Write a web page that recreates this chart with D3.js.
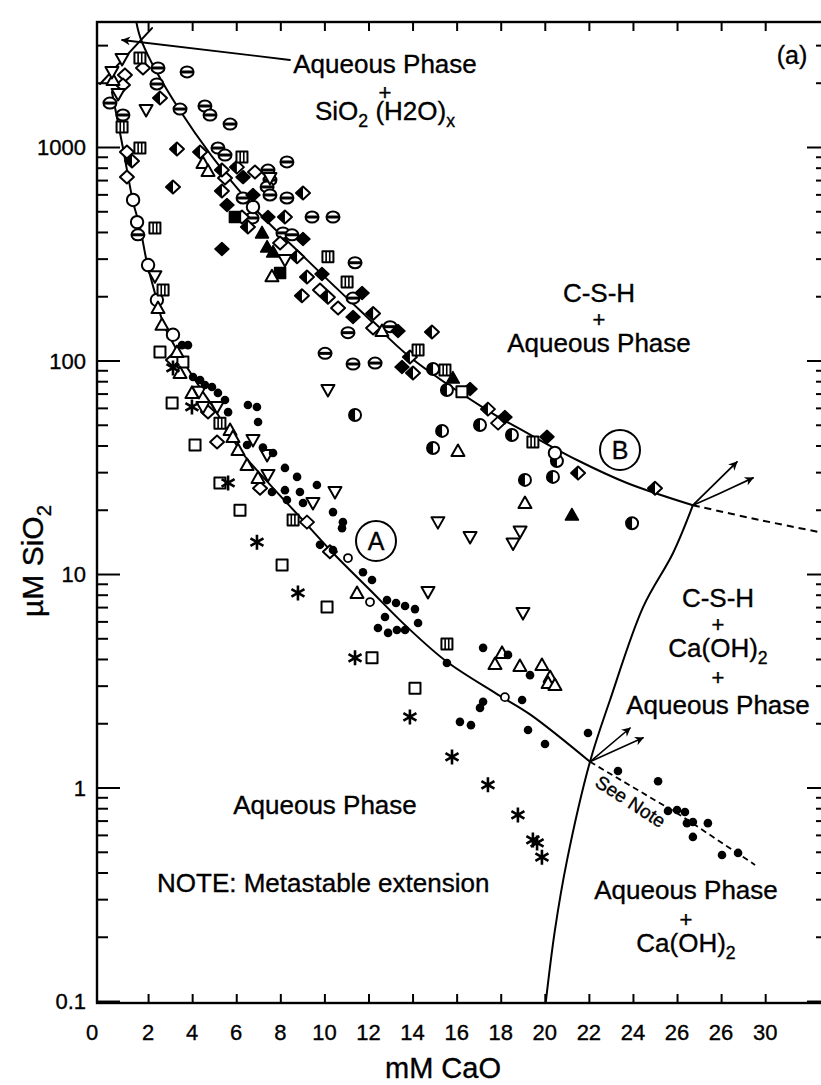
<!DOCTYPE html>
<html><head><meta charset="utf-8">
<script src="https://cdn.jsdelivr.net/npm/d3@7"></script>
<style>
body{margin:0;background:#fff}
svg{display:block}
text{font-family:"Liberation Sans",Arial,Helvetica,sans-serif;fill:#000;stroke:#000;stroke-width:0.35px}
</style>
</head><body>
<svg id="c" width="821" height="1085"></svg>
<script>
// ---------------- data ----------------
const xTickValues = [0,2,4,6,8,10,12,14,16,18,20,22,24,26,28,30];
const xTickLabels = ["0","2","4","6","8","10","12","14","16","18","20","22","24","26","26","30"];
const yTickValues = [0.1,1,10,100,1000];
const yTickLabels = ["0.1","1","10","100","1000"];

// marker series: [mM CaO, µM SiO2]
const circH = [[2.45,2345],[3.77,2246],[2.40,1973],[3.45,1506],[4.58,1556],[4.81,1412],[5.72,1281],[0.86,1412],[0.27,1606],[5.17,989],[5.49,917],[8.30,851],[7.44,780],[7.53,700],[7.40,650],[7.53,596],[6.31,577],[8.30,577],[6.72,465],[9.44,470],[10.39,470],[8.12,396],[8.53,388],[11.39,287],[11.30,196],[11.07,135],[12.98,144],[10.03,108],[11.30,96.3],[12.30,97.3],[1.54,388]];
const circV = [[11.39,55.6],[15.34,46.8],[14.93,38.9],[17.06,49.9],[19.10,27.6],[20.37,28.5],[18.51,44.8],[20.55,33.8],[15.56,72.8],[14.93,91.3],[23.96,17.3]];
const circOpen = [[6.76,524],[1.32,565],[1.50,445],[2.00,280],[3.13,132],[20.46,36.9],[2.40,192]];
const circSmall = [[11.07,11.88],[12.07,7.39],[18.19,2.65]];
const diaOpen = [[1.77,2345],[0.95,2176],[0.86,1950],[1.04,947],[1.04,723],[5.49,715],[6.85,763],[6.26,470],[7.99,355],[9.80,214],[10.62,176],[12.21,142],[3.13,100.5],[4.72,57.4],[5.13,41.5],[7.08,25.2],[9.21,17.5],[10.25,12.7],[17.88,50.9]];
const diaHalf = [[2.54,1696],[1.27,860],[3.31,978],[4.36,947],[6.03,805],[5.35,780],[5.35,622],[3.13,650],[9.03,609],[8.21,470],[6.53,422],[8.76,306],[9.21,246],[8.98,201],[10.16,198],[12.21,166],[14.88,136],[13.88,103.8],[14.02,87.4],[17.42,59.2],[21.51,29.7],[25.00,25.2]];
const diaFilled = [[6.31,723],[6.76,596],[5.58,535],[7.44,470],[9.03,371],[5.35,333],[9.89,254],[11.71,207],[11.30,160],[13.34,137.5],[13.52,93.3],[16.61,73.6],[18.19,54.3],[20.10,43.9]];
const sqOpen = [[2.54,109.6],[3.09,63.2],[4.13,40.2],[5.26,26.7],[6.17,19.9],[8.08,11.02],[10.12,7.0],[12.16,4.05],[14.11,2.92],[16.24,71.3],[3.58,98.4]];
const sqBar = [[1.63,2611],[1.63,989],[2.31,418],[2.68,214],[6.26,897],[10.16,306],[11.03,233],[14.25,112],[15.47,90.3],[5.26,50.9],[8.58,17.9],[15.56,4.70],[0.82,1240],[19.46,41.5]];
const sqFilled = [[5.94,470],[7.99,257]];
const triUp = [[4.49,841],[4.72,772],[7.62,248],[2.45,176],[2.63,147],[3.31,109.6],[3.45,87.4],[3.99,70.5],[5.72,47.3],[5.85,43.8],[6.08,38.1],[6.49,32.4],[6.99,28.2],[11.48,8.15],[16.06,37.7],[19.10,21.5],[18.06,4.27],[17.74,3.79],[18.87,3.71],[19.87,3.75],[20.24,3.29],[20.15,3.09],[20.46,3.02],[12.61,137.5],[0.41,2060]];
const triUpFilled = [[7.17,396],[7.40,340],[7.67,322],[15.83,82.8],[21.23,18.9]];
const triDown = [[0.82,2584],[0.36,2246],[0.64,1771],[1.91,1490],[2.31,248],[4.31,71.3],[4.49,60.6],[5.13,60.6],[6.76,42.4],[7.40,36.1],[7.44,29.1],[9.48,21.5],[10.48,24.2],[15.15,17.5],[16.61,14.9],[18.88,15.8],[18.56,13.9],[14.70,8.24],[19.01,6.56],[10.16,72.8],[7.53,715],[8.21,296]];
const dots = [[3.54,118],[3.81,118],[4.04,83.7],[4.36,81.0],[4.58,76.8],[4.90,75.2],[5.17,70.5],[5.49,65.3],[5.63,57.3],[6.53,61.9],[6.94,60.6],[6.99,51.5],[6.49,40.2],[7.21,39.1],[7.67,36.9],[8.21,31.4],[8.76,28.5],[9.66,26.1],[7.62,24.2],[8.21,24.7],[8.30,22.2],[8.89,24.2],[9.03,21.5],[10.39,19.5],[10.84,17.5],[10.80,16.4],[9.80,13.7],[10.39,12.96],[11.75,10.2],[12.16,9.37],[12.84,7.55],[13.25,7.31],[13.66,7.08],[14.11,6.85],[12.75,6.29],[14.25,5.90],[12.43,5.59],[12.89,5.30],[13.29,5.47],[13.66,5.47],[15.56,3.83],[17.20,4.51],[18.33,4.18],[19.33,3.36],[18.97,2.57],[17.20,2.52],[17.06,2.36],[16.15,2.03],[16.65,1.96],[19.24,1.86],[20.01,1.60],[21.96,1.80],[23.32,1.195],[25.14,1.07],[25.59,0.777],[26.00,0.785],[26.36,0.768],[26.45,0.681],[26.72,0.689],[27.40,0.681],[26.72,0.587],[28.04,0.483],[28.77,0.494]];
const stars = [[3.13,92.3],[3.99,60.6],[5.63,26.7],[6.94,14.1],[8.80,8.15],[11.39,4.05],[13.88,2.14],[15.79,1.39],[17.42,1.03],[18.78,0.744],[19.46,0.568],[19.65,0.55],[19.87,0.472]];

// phase boundaries
const curveA = [[0.36,1810],[0.86,989],[1.32,553],[1.63,422],[1.95,287],[2.31,207],[2.68,150],[3.22,116],[4.13,81.0],[5.04,58.6],[6.17,38.1],[7.53,26.2],[8.89,18.5],[10.39,12.55],[12.07,8.42],[13.75,5.65],[15.56,3.88],[17.83,2.74],[19.33,2.20],[22.05,1.32]];
const curveB = [[1.45,3934],[1.72,3104],[3.40,1506],[6.49,565],[9.21,296],[11.93,160],[13.88,103.8],[17.38,58.6],[19.19,45.8],[21.46,34.2],[23.73,26.7],[26.72,21.0]];
const silicaLine = [[-0.18,1973],[2.18,3606]];
const curveCH = [[20.05,0.1],[20.46,0.215],[21.01,0.457],[22.05,1.32],[22.96,2.57],[24.46,7.0],[25.82,12.55],[26.72,21.0]];
const dashB = [[26.72,21.0],[29.76,17.9],[32.62,15.6]];
const dashA = [[22.05,1.32],[26.13,0.744],[29.54,0.434]];
const arrowJ1a = [[26.72,21.0],[28.72,33.5]];
const arrowJ1b = [[26.72,21.0],[27.95,23.9],[29.45,28.2]];
const arrowJ2a = [[22.05,1.32],[23.87,1.90]];
const arrowJ2b = [[22.05,1.32],[24.46,1.71]];
const pointer = [[8.44,2556],[0.82,3171]];

// ---------------- layout ----------------
const L = 97, R = 823, T = 22, B = 1003;
const x = d3.scaleLinear().domain([-0.3176, 32.623]).range([L, R]);
const y = d3.scaleLog().domain([0.0979, 3850]).range([B, T]);

const svg = d3.select("#c");
const defs = svg.append("defs");
defs.append("clipPath").attr("id","clip").append("rect")
  .attr("x",L).attr("y",T).attr("width",R-L).attr("height",B-T);
defs.append("marker").attr("id","ah").attr("viewBox","0 0 10 10")
  .attr("refX",9).attr("refY",5).attr("markerWidth",10).attr("markerHeight",9)
  .attr("markerUnits","userSpaceOnUse").attr("orient","auto")
  .append("path").attr("d","M0,0L10,5L0,10L3,5Z").attr("fill","#000");

// frame
svg.append("rect").attr("x",L).attr("y",T).attr("width",R-L).attr("height",B-T)
  .attr("fill","none").attr("stroke","#000").attr("stroke-width",2.4);

// axes ticks
const xt = xTickValues.filter(v => v > 0);
const minor = [];
yTickValues.forEach(d => { for (let k = 2; k <= 9; k++) if (d*k < 3850) minor.push(d*k); });

function tickAxis(axis, tx, ty) {
  const g = svg.append("g").attr("transform",`translate(${tx},${ty})`).call(axis);
  g.select(".domain").remove();
  g.selectAll("line").attr("stroke","#000").attr("stroke-width",2);
  g.selectAll("text").remove();
}
tickAxis(d3.axisBottom(x).tickValues(xt).tickSize(-9), 0, B);
tickAxis(d3.axisTop(x).tickValues(xt).tickSize(-9), 0, T);
tickAxis(d3.axisLeft(y).tickValues(yTickValues).tickSize(-23), L, 0);
tickAxis(d3.axisLeft(y).tickValues(minor).tickSize(-11), L, 0);
tickAxis(d3.axisRight(y).tickValues(yTickValues).tickSize(-16), R, 0);
tickAxis(d3.axisRight(y).tickValues(minor).tickSize(-7), R, 0);

// tick labels
xTickValues.forEach((v,i) => {
  svg.append("text").attr("x", v === 0 ? L - 5 : x(v)).attr("y", 1040)
    .attr("text-anchor","middle").attr("font-size",22).text(xTickLabels[i]);
});
yTickValues.forEach((v,i) => {
  svg.append("text").attr("x", 86).attr("y", y(v) + 8)
    .attr("text-anchor","end").attr("font-size",22).text(yTickLabels[i]);
});

// ---------------- lines ----------------
const plot = svg.append("g").attr("clip-path","url(#clip)");
const lineC = d3.line().x(d => x(d[0])).y(d => y(d[1])).curve(d3.curveCatmullRom.alpha(0.5));
const lineS = d3.line().x(d => x(d[0])).y(d => y(d[1]));
function path(data, gen, opts = {}) {
  const p = plot.append("path").attr("d", gen(data))
    .attr("fill","none").attr("stroke","#000").attr("stroke-width", opts.w || 2)
    .attr("stroke-linecap","round");
  if (opts.dash) p.attr("stroke-dasharray", opts.dash).attr("stroke-linecap","butt");
  if (opts.arrow) p.attr("marker-end","url(#ah)");
  return p;
}
path(curveA, lineC);
path(curveB, lineC);
path(silicaLine, lineS);
path(curveCH, lineC);
path(dashB, lineC, {dash:"7,5"});
path(dashA, lineS, {dash:"6,4", w:1.8});
path(arrowJ1a, lineS, {arrow:true, w:1.8});
path(arrowJ1b, lineC, {arrow:true, w:1.8});
path(arrowJ2a, lineS, {arrow:true, w:1.6});
path(arrowJ2b, lineS, {arrow:true, w:1.6});
path(pointer, lineS, {arrow:true, w:1.8});

// ---------------- markers ----------------
const circ = r => `M${-r},0A${r},${r} 0 1,0 ${r},0A${r},${r} 0 1,0 ${-r},0Z`;
const ell = (rx,ry) => `M${-rx},0A${rx},${ry} 0 1,0 ${rx},0A${rx},${ry} 0 1,0 ${-rx},0Z`;
const DIA = "M-7,0L0,-6.5L7,0L0,6.5Z";
const SQ = "M-5.5,-5.5h11v11h-11Z";
const shapes = {
  circH: [{d:ell(6.5,5.5), f:"#fff", w:2}, {d:"M-6,0H6", f:"none", w:3}],
  circV: [{d:circ(6), f:"#fff", w:2}, {d:"M0,-6A6,6 0 0,0 0,6Z", f:"#000", w:0}],
  circOpen: [{d:circ(6.2), f:"#fff", w:2}],
  circSmall: [{d:circ(4), f:"#fff", w:1.8}],
  diaOpen: [{d:DIA, f:"#fff", w:2}],
  diaHalf: [{d:DIA, f:"#fff", w:2}, {d:"M-7,0L0,-6.5L0,6.5Z", f:"#000", w:0}],
  diaFilled: [{d:DIA, f:"#000", w:1.5}],
  sqOpen: [{d:SQ, f:"#fff", w:2}],
  sqBar: [{d:SQ, f:"#fff", w:2}, {d:"M-1.8,-5.5V5.5M1.8,-5.5V5.5", f:"none", w:1.6}],
  sqFilled: [{d:SQ, f:"#000", w:1.5}],
  triUp: [{d:"M0,-6.5L6.5,5L-6.5,5Z", f:"#fff", w:2}],
  triUpFilled: [{d:"M0,-6.5L6.5,5L-6.5,5Z", f:"#000", w:1.5}],
  triDown: [{d:"M0,6.5L6.5,-5L-6.5,-5Z", f:"#fff", w:2}],
  dots: [{d:circ(4.3), f:"#000", w:0}],
  stars: [{d:"M0,-7.5V7.5M-6.5,-3.75L6.5,3.75M-6.5,3.75L6.5,-3.75", f:"none", w:2.6}]
};
const series = {circH, circV, circOpen, circSmall, diaOpen, diaHalf, diaFilled, sqOpen, sqBar, sqFilled, triUp, triUpFilled, triDown, dots, stars};
Object.keys(series).forEach(k => {
  const g = plot.append("g");
  const pts = g.selectAll("g").data(series[k]).enter().append("g")
    .attr("transform", d => `translate(${x(d[0])},${y(d[1])})`);
  shapes[k].forEach(s => {
    pts.append("path").attr("d", s.d).attr("fill", s.f)
      .attr("stroke", s.w ? "#000" : "none").attr("stroke-width", s.w)
      .attr("stroke-linejoin","round");
  });
});

// ---------------- text ----------------
// one <text> element per label; each line: [parts, baseline, fontSize]
function addBlock(lines, cx, anchor = "middle", rot = 0) {
  const t = svg.append("text").attr("text-anchor",anchor);
  if (rot) t.attr("transform",`rotate(${rot},${cx},${lines[0][1]})`);
  lines.forEach(([parts, by, size]) => {
    let prevSub = false;
    parts.forEach((p, j) => {
      const sub = Array.isArray(p);
      const s = sub ? p[0] : p;
      const ts = t.append("tspan").text(s).attr("font-size", sub ? size*0.68 : size);
      if (j === 0) ts.attr("x", cx).attr("y", by);
      if (sub && !prevSub) ts.attr("dy", size*0.25);
      else if (!sub && prevSub) ts.attr("dy", -size*0.25);
      prevSub = sub;
    });
  });
  return t;
}
addBlock([[["Aqueous Phase"],73,26],[["+"],100,22],[["SiO",["2"]," (H2O)",["x"]],120,26]], 385);
addBlock([[["(a)"],64,25]], 792);
addBlock([[["C-S-H"],302,26],[["+"],327,22],[["Aqueous Phase"],352,26]], 599);
addBlock([[["C-S-H"],607,26],[["+"],632,22],[["Ca(OH)",["2"]],657,26],[["+"],685,22],[["Aqueous Phase"],714,26]], 718);
addBlock([[["Aqueous Phase"],814,26]], 325);
addBlock([[["NOTE: Metastable extension"],892,26]], 157, "start");
addBlock([[["Aqueous Phase"],899,26],[["+"],927,22],[["Ca(OH)",["2"]],952,26]], 686);
addBlock([[["See Note"],807,19]], 627, "middle", 33);

// circled labels
[["A",376,541],["B",620,450]].forEach(([s,cx,cy]) => {
  svg.append("circle").attr("cx",cx).attr("cy",cy).attr("r",20)
    .attr("fill","#fff").attr("stroke","#000").attr("stroke-width",2);
  addBlock([[[s], cy + 9, 25]], cx);
});

// axis titles
addBlock([[["mM CaO"],1078,29]], 443);
addBlock([[["µM SiO",["2"]],561,30]], 43, "middle", -90);
</script>
</body></html>
